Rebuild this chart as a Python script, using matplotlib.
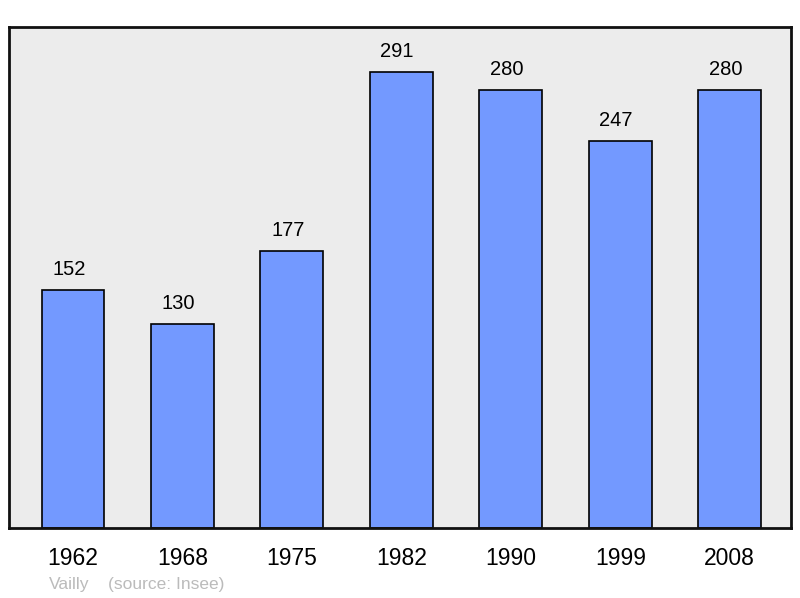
import matplotlib
matplotlib.use("Agg")
import matplotlib.pyplot as plt

years = ["1962", "1968", "1975", "1982", "1990", "1999", "2008"]
population = [152, 130, 177, 291, 280, 247, 280]

plt.rcParams['font.family'] = ['Liberation Sans', 'DejaVu Sans']

fig = plt.figure(figsize=(8, 5.98), dpi=100)
ax = fig.add_axes([9 / 800, 70 / 598, 782 / 800, 501 / 598])
ax.set_facecolor('#ececec')

x = range(len(years))
ax.bar(x, population, width=0.575, color='#7399ff', edgecolor='black', linewidth=1.2, zorder=2)
for xi, v in zip(x, population):
    ax.annotate(str(v), (xi, v), xytext=(-3, 8), textcoords='offset points',
                ha='center', va='bottom', fontsize=14.5)

ax.set_xlim(-0.585, 6.56)
ax.set_ylim(0, 320)
ax.set_xticks(list(x))
ax.set_xticklabels(years, fontsize=16.5)
ax.tick_params(axis='x', length=0, pad=14)
ax.set_yticks([])
for s in ax.spines.values():
    s.set_linewidth(2)
    s.set_color('#111111')

fig.text(49 / 800, 1 - 584 / 598, "Vailly", color='#bbbbbb', fontsize=12.5, va='center')
fig.text(108 / 800, 1 - 584 / 598, "(source: Insee)", color='#bbbbbb', fontsize=12.5, va='center')

fig.savefig('out.png', dpi=100)
